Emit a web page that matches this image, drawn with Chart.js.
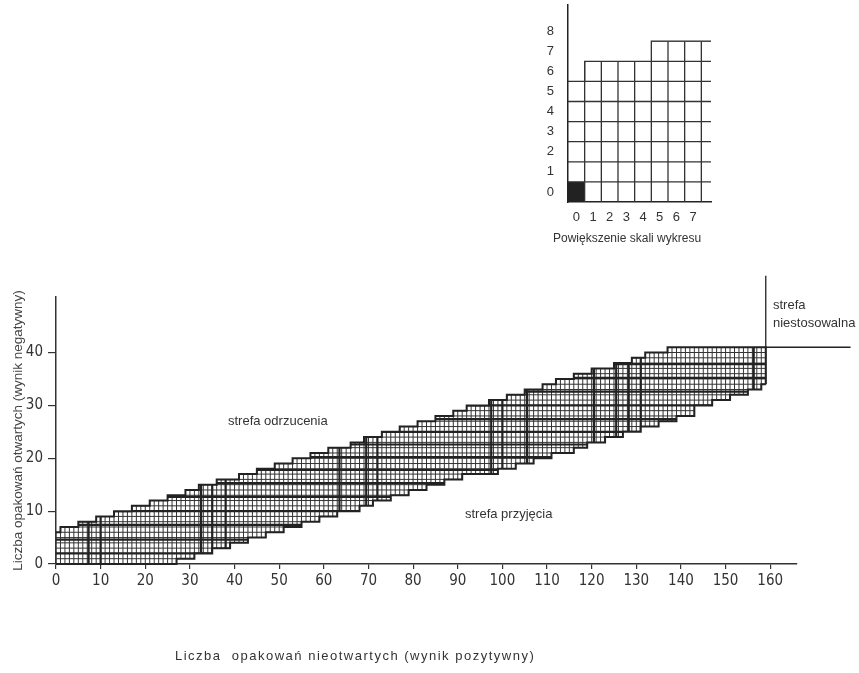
<!DOCTYPE html>
<html>
<head>
<meta charset="utf-8">
<script src="https://cdn.jsdelivr.net/npm/chart.js@4.4.1/dist/chart.umd.min.js"></script>
<style>
html,body{margin:0;padding:0;background:#fff;}
#wrap{position:relative;width:859px;height:673px;overflow:hidden;font-family:"Liberation Sans",Arial,sans-serif;color:#333;}
canvas{position:absolute;left:0;top:0;}
.lbl{position:absolute;font-size:13px;line-height:13px;white-space:nowrap;}
</style>
</head>
<body>
<div id="wrap">
  <canvas id="mainChart" width="859" height="673"></canvas>
  <canvas id="insetChart" width="240" height="250" style="left:520px;top:0"></canvas>
  <div class="lbl" style="left:228px;top:414px">strefa odrzucenia</div>
  <div class="lbl" style="left:465px;top:507px">strefa przyjęcia</div>
  <div class="lbl" style="left:773px;top:298px">strefa</div>
  <div class="lbl" style="left:773px;top:316px">niestosowalna</div>
  <div class="lbl" style="left:553px;top:232px;font-size:12px">Powiększenie skali wykresu</div>
  <div class="lbl" style="left:175px;top:649px;letter-spacing:1.5px">Liczba&nbsp; opakowań nieotwartych (wynik pozytywny)</div>
</div>
<script>
// main chart: stepped band (start of each step + its level)
const upperStartX=[0,1,5,9,13,17,21,25,29,32,36,41,45,49,53,57,61,66,69,73,77,81,85,89,92,97,101,105,109,112,116,120,125,129,132,137];
const upperTop=[6,7,8,9,10,11,12,13,14,15,16,17,18,19,20,21,22,23,24,25,26,27,28,29,30,31,32,33,34,35,36,37,38,39,40,41];
const lowerStartX=[0,27,31,35,39,43,47,51,55,59,63,68,71,75,79,83,87,91,99,103,107,111,116,119,123,127,131,135,139,143,147,151,155,158];
const lowerBottom=[0,1,2,3,4,5,6,7,8,9,10,11,12,13,14,15,16,17,18,19,20,21,22,23,24,25,26,27,28,30,31,32,33,34];
const bandEndX=159;
// heavier lines of the printed grid, inside the band
const thickX=[7.3,10,32.5,35,38,63.5,69.5,72,97.5,100,105.5,120.5,125.5,128.3,131,156.3];
const thickY=[2,4.6,7.4,10,12.7,15.3,17.8,20.2,22.6,25,27.4,30,32.6,35.2,37.8];
// truncation lines (corner at 159 / 41)
const truncX=[159,159];
const truncVY=[34,54.5];
const truncHX=[159,178];
const truncHY=[41,41];
const xTicks=[0,10,20,30,40,50,60,70,80,90,100,110,120,130,140,150,160];
const yTicks=[0,10,20,30,40];

// inset: magnified corner
const insetColStart=[0,1,5];
const insetColTop=[6,7,8];
const insetFilled=[[0,0]];
const insetXLabels=[0,1,2,3,4,5,6,7];
const insetYLabels=[0,1,2,3,4,5,6,7,8];

const TICK_FONT={family:'"Liberation Sans Narrow","Arial Narrow","DejaVu Sans Condensed","Liberation Sans",sans-serif',size:15};
const INSET_FONT={family:'"Liberation Sans",Arial,sans-serif',size:13};
const INK='#222';

function stepPoints(startX,levels,endX){
  const pts=startX.map((x,i)=>({x,y:levels[i]}));
  pts.push({x:endX,y:levels[levels.length-1]});
  return pts;
}

function levelAt(startX,levels,x){
  let v=levels[0];
  for(let i=0;i<startX.length;i++){if(startX[i]<=x)v=levels[i];}
  return v;
}

function noEdgePadding(s){
  s.paddingTop=0;s.paddingBottom=0;s.paddingLeft=0;s.paddingRight=0;
}

// polygon of the band in pixels, used as clip for the fine grid
function bandPath(ctx,xs,ys,endX){
  ctx.beginPath();
  ctx.moveTo(xs.getPixelForValue(0),ys.getPixelForValue(levelAt(lowerStartX,lowerBottom,0)));
  ctx.lineTo(xs.getPixelForValue(0),ys.getPixelForValue(upperTop[0]));
  for(let i=0;i<upperStartX.length;i++){
    const x1=i+1<upperStartX.length?upperStartX[i+1]:endX;
    ctx.lineTo(xs.getPixelForValue(upperStartX[i]),ys.getPixelForValue(upperTop[i]));
    ctx.lineTo(xs.getPixelForValue(x1),ys.getPixelForValue(upperTop[i]));
  }
  for(let i=lowerStartX.length-1;i>=0;i--){
    const x1=i+1<lowerStartX.length?lowerStartX[i+1]:endX;
    ctx.lineTo(xs.getPixelForValue(x1),ys.getPixelForValue(lowerBottom[i]));
    ctx.lineTo(xs.getPixelForValue(lowerStartX[i]),ys.getPixelForValue(lowerBottom[i]));
  }
  ctx.closePath();
}

const bandGridPlugin={
  id:'bandGrid',
  beforeDatasetsDraw(chart){
    const {ctx,scales:{x,y}}=chart;
    const top=upperTop[upperTop.length-1];
    ctx.save();
    bandPath(ctx,x,y,bandEndX);
    ctx.clip();
    ctx.strokeStyle='#333';
    ctx.lineWidth=1;
    ctx.beginPath();
    for(let i=0;i<=bandEndX;i++){
      const px=x.getPixelForValue(i);
      ctx.moveTo(px,y.getPixelForValue(0));ctx.lineTo(px,y.getPixelForValue(top));
    }
    for(let j=0;j<=top;j++){
      const py=y.getPixelForValue(j);
      ctx.moveTo(x.getPixelForValue(0),py);ctx.lineTo(x.getPixelForValue(bandEndX),py);
    }
    ctx.stroke();
    ctx.strokeStyle=INK;
    ctx.lineWidth=2.2;
    ctx.beginPath();
    thickX.forEach(v=>{
      const px=x.getPixelForValue(v);
      ctx.moveTo(px,y.getPixelForValue(0));ctx.lineTo(px,y.getPixelForValue(top));
    });
    thickY.forEach(v=>{
      const py=y.getPixelForValue(v);
      ctx.moveTo(x.getPixelForValue(0),py);ctx.lineTo(x.getPixelForValue(bandEndX),py);
    });
    ctx.stroke();
    ctx.restore();
  }
};

const insetGridPlugin={
  id:'insetGrid',
  beforeDatasetsDraw(chart){
    const {ctx,scales:{x,y}}=chart;
    const xMax=x.max,top=insetColTop[insetColTop.length-1];
    ctx.save();
    ctx.beginPath();
    ctx.moveTo(x.getPixelForValue(0),y.getPixelForValue(0));
    for(let i=0;i<insetColStart.length;i++){
      const x1=i+1<insetColStart.length?insetColStart[i+1]:xMax;
      ctx.lineTo(x.getPixelForValue(insetColStart[i]),y.getPixelForValue(insetColTop[i]));
      ctx.lineTo(x.getPixelForValue(x1),y.getPixelForValue(insetColTop[i]));
    }
    ctx.lineTo(x.getPixelForValue(xMax),y.getPixelForValue(0));
    ctx.closePath();
    ctx.clip();
    ctx.fillStyle=INK;
    insetFilled.forEach(([cx,cy])=>{
      const l=x.getPixelForValue(cx),r=x.getPixelForValue(cx+1);
      const t=y.getPixelForValue(cy+1),b=y.getPixelForValue(cy);
      ctx.fillRect(l,t,r-l,b-t);
    });
    ctx.strokeStyle='#333';
    ctx.lineWidth=1.3;
    ctx.beginPath();
    for(let i=1;i<=Math.floor(xMax);i++){
      const px=x.getPixelForValue(i);
      ctx.moveTo(px,y.getPixelForValue(0));ctx.lineTo(px,y.getPixelForValue(top));
    }
    for(let j=1;j<=top;j++){
      const py=y.getPixelForValue(j);
      ctx.moveTo(x.getPixelForValue(0),py);ctx.lineTo(x.getPixelForValue(xMax),py);
    }
    ctx.stroke();
    ctx.restore();
  }
};

const upperPts=stepPoints(upperStartX,upperTop,bandEndX);
upperPts.push({x:bandEndX,y:lowerBottom[lowerBottom.length-1]});

new Chart(document.getElementById('mainChart'),{
  type:'line',
  data:{datasets:[
    {data:upperPts,stepped:'before',borderColor:INK,borderWidth:2,pointRadius:0,fill:false,clip:false},
    {data:stepPoints(lowerStartX,lowerBottom,bandEndX),stepped:'before',borderColor:INK,borderWidth:2,pointRadius:0,fill:false,clip:false},
    {data:truncX.map((v,i)=>({x:v,y:truncVY[i]})),borderColor:INK,borderWidth:1.3,pointRadius:0,clip:false},
    {data:truncHX.map((v,i)=>({x:v,y:truncHY[i]})),borderColor:INK,borderWidth:1.3,pointRadius:0,clip:false}
  ]},
  options:{
    responsive:false,
    animation:false,
    layout:{padding:{left:0,top:297,right:62,bottom:0}},
    plugins:{legend:{display:false},tooltip:{enabled:false}},
    scales:{
      x:{
        type:'linear',min:0,max:166,
        afterBuildTicks:s=>{s.ticks=xTicks.map(v=>({value:v}));},
        afterFit:s=>{s.height=109;noEdgePadding(s);},
        grid:{drawOnChartArea:false,drawTicks:true,tickLength:5,color:'#333',lineWidth:1.2},
        border:{display:true,color:'#333',width:1.5},
        ticks:{color:'#333',font:TICK_FONT,padding:3,maxRotation:0,autoSkip:false}
      },
      y:{
        type:'linear',min:0,max:50.5,
        afterBuildTicks:s=>{s.ticks=yTicks.map(v=>({value:v}));},
        afterFit:s=>{s.width=56;noEdgePadding(s);},
        grid:{drawOnChartArea:false,drawTicks:true,tickLength:8,color:'#333',lineWidth:1.2},
        border:{display:true,color:'#333',width:1.5},
        ticks:{color:'#333',font:TICK_FONT,padding:5},
        title:{display:true,text:'Liczba opakowań otwartych (wynik negatywny)',color:'#444',font:{family:'"Liberation Sans",Arial,sans-serif',size:13.5},padding:{top:10,bottom:0}}
      }
    }
  },
  plugins:[bandGridPlugin]
});

new Chart(document.getElementById('insetChart'),{
  type:'line',
  data:{datasets:[
    {data:stepPoints(insetColStart,insetColTop,8.58),stepped:'before',borderColor:'#333',borderWidth:1.3,pointRadius:0,fill:false,clip:false}
  ]},
  options:{
    responsive:false,
    animation:false,
    layout:{padding:{left:0,top:5,right:49,bottom:0}},
    plugins:{legend:{display:false},tooltip:{enabled:false}},
    scales:{
      x:{
        type:'linear',min:0,max:8.58,
        afterBuildTicks:s=>{s.ticks=insetXLabels.map(v=>({value:v+0.5}));},
        afterFit:s=>{s.height=48;noEdgePadding(s);},
        grid:{display:false},
        border:{display:true,color:INK,width:1.5},
        ticks:{color:'#333',font:INSET_FONT,padding:0,maxRotation:0,autoSkip:false,callback:v=>String(Math.round(v-0.5))}
      },
      y:{
        type:'linear',min:0,max:9.8,
        afterBuildTicks:s=>{s.ticks=insetYLabels.map(v=>({value:v+0.5}));},
        afterFit:s=>{s.width=48;noEdgePadding(s);},
        grid:{display:false},
        border:{display:true,color:INK,width:1.5},
        ticks:{color:'#333',font:INSET_FONT,padding:6,callback:v=>String(Math.round(v-0.5))}
      }
    }
  },
  plugins:[insetGridPlugin]
});
</script>
</body>
</html>
